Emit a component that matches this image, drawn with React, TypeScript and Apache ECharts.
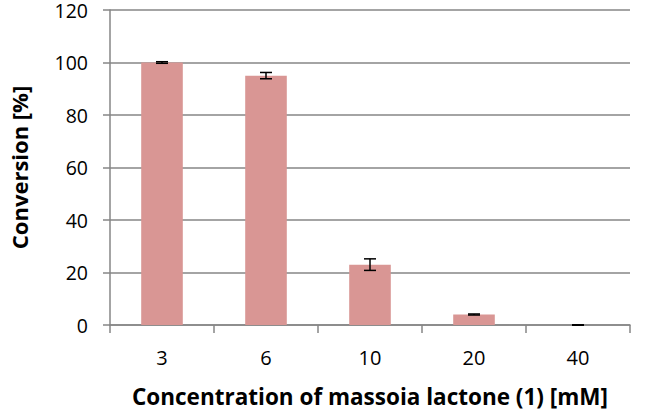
import React, { useEffect, useRef } from "react";
import * as echarts from "echarts";

const categories = ["3", "6", "10", "20", "40"];
const conversion = [100, 95, 23, 4, 0];
const errors = [0.3, 1.2, 2.2, 0.2, 0.1];
const yTicks = { min: 0, max: 120, interval: 20 };

export default function App() {
  const ref = useRef<HTMLDivElement>(null);
  useEffect(() => {
    if (!ref.current) return;
    const chart = echarts.init(ref.current, null, { renderer: "svg" });
    const errData = conversion.map((v, i) => [i, v - errors[i], v + errors[i]]);
    const font = "'Open Sans', sans-serif";
    chart.setOption({
      animation: false,
      grid: { left: 100, right: 16, top: 10, bottom: 83 },
      xAxis: {
        type: "category",
        data: categories,
        name: "Concentration of massoia lactone (1) [mM]",
        nameLocation: "middle",
        nameGap: 59,
        nameTextStyle: { fontFamily: font, fontSize: 22.5, lineHeight: 24, fontWeight: "bold", color: "#000" },
        axisLine: { lineStyle: { color: "#868686", width: 1.5 } },
        axisTick: { show: true, length: 8, lineStyle: { color: "#868686", width: 1.5 } },
        axisLabel: { fontFamily: font, fontSize: 20, color: "#000", margin: 22 },
      },
      yAxis: {
        type: "value",
        min: yTicks.min,
        max: yTicks.max,
        interval: yTicks.interval,
        name: "Conversion [%]",
        nameLocation: "middle",
        nameGap: 80,
        nameTextStyle: { fontFamily: font, fontSize: 22, lineHeight: 22, fontWeight: "bold", color: "#000" },
        axisLine: { show: true, lineStyle: { color: "#868686", width: 1.5 } },
        axisTick: { show: true, length: 7, lineStyle: { color: "#868686", width: 1.5 } },
        axisLabel: { fontFamily: font, fontSize: 19.5, lineHeight: 14, color: "#000", margin: 22 },
        splitLine: { lineStyle: { color: "#868686", width: 1.5 } },
      },
      series: [
        {
          type: "bar",
          data: conversion,
          barWidth: "40%",
          itemStyle: { color: "#D99694" },
        },
        {
          type: "custom",
          data: errData,
          z: 10,
          renderItem: (params: any, api: any) => {
            const x = api.value(0);
            const lo = api.coord([x, api.value(1)]);
            const hi = api.coord([x, api.value(2)]);
            const w = 6;
            const style = { stroke: "#000", lineWidth: 1.5 };
            return {
              type: "group",
              children: [
                { type: "line", shape: { x1: lo[0], y1: lo[1], x2: hi[0], y2: hi[1] }, style },
                { type: "line", shape: { x1: lo[0] - w, y1: lo[1], x2: lo[0] + w, y2: lo[1] }, style },
                { type: "line", shape: { x1: hi[0] - w, y1: hi[1], x2: hi[0] + w, y2: hi[1] }, style },
              ],
            };
          },
        },
      ],
    });
    return () => chart.dispose();
  }, []);
  return (
    <div
      ref={ref}
      style={{ position: "absolute", left: 0, top: 0, width: 646, height: 413 }}
    />
  );
}
